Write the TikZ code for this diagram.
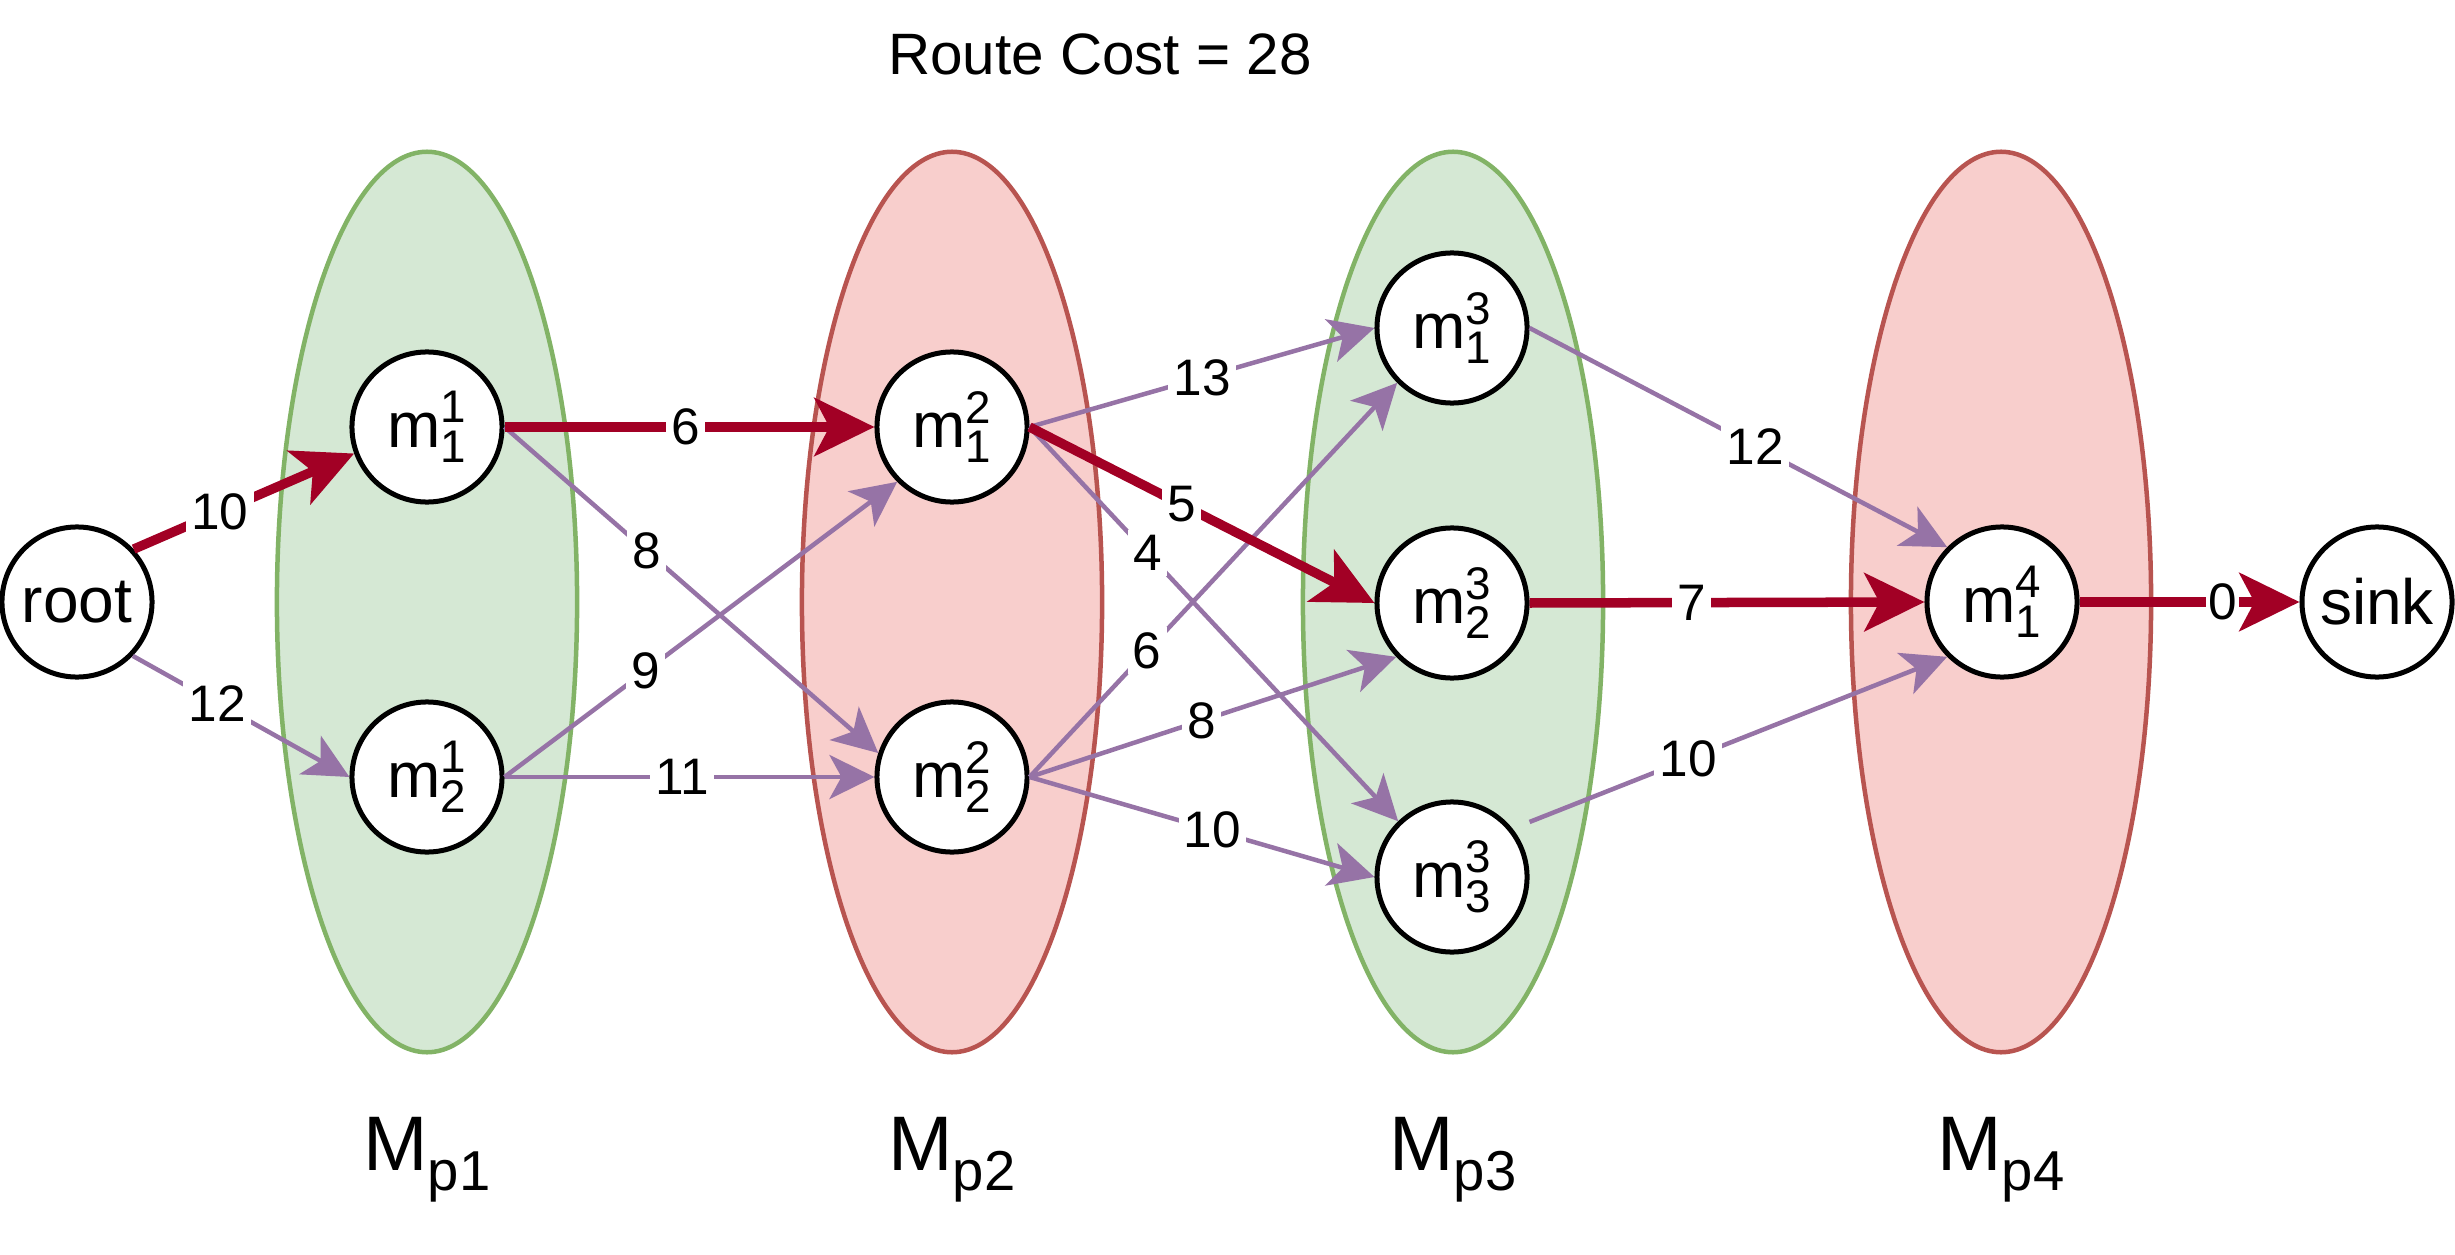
\documentclass[tikz,border=0pt]{standalone}
\usepackage{fontspec}
\setmainfont{Liberation Sans}
\usetikzlibrary{arrows.meta,shapes.geometric}
\definecolor{pur}{HTML}{9673A6}
\definecolor{crim}{HTML}{A20025}
\definecolor{gfill}{HTML}{D5E8D4}
\definecolor{gline}{HTML}{82B366}
\definecolor{rfill}{HTML}{F8CECC}
\definecolor{rline}{HTML}{B85450}
\newcommand{\mlab}[2]{m\makebox[0pt][l]{\raisebox{7pt}{\fontsize{13}{13}\selectfont #1}}\raisebox{-4.3pt}{\fontsize{13}{13}\selectfont #2}}
\newcommand{\Mlab}[1]{M\raisebox{-5.7pt}{\fontsize{16}{16}\selectfont p#1}}
\tikzset{
 mnode/.style={circle, draw=black, line width=0.05cm, fill=white, minimum size=1.5cm, inner sep=0pt, font=\fontsize{18.2}{20}\selectfont},
 grp/.style={ellipse, line width=0.045cm, minimum width=3cm, minimum height=9cm, inner sep=0pt, outer sep=0pt},
 grpG/.style={grp, draw=gline, fill=gfill},
 grpR/.style={grp, draw=rline, fill=rfill},
 pe/.style={draw=pur, line width=0.045cm, -{Stealth[length=0.45cm,width=0.44cm,inset=0.12cm]}},
 re/.style={draw=crim, line width=0.095cm, -{Stealth[length=0.6cm,width=0.58cm,inset=0.15cm]}},
 wl/.style={fill=white, inner sep=1.5pt, font=\fontsize{14.6}{16}\selectfont, text=black},
 glab/.style={anchor=base, inner sep=0pt, font=\fontsize{22}{24}\selectfont},
}
\begin{document}
\begin{tikzpicture}[x=0.01cm,y=-0.01cm]
\useasboundingbox (0,0) rectangle (2455,1255);
% group ellipses
\node[grpG] (E1) at (427,602) {};
\node[grpR] (E2) at (952,602) {};
\node[grpG] (E3) at (1453,602) {};
\node[grpR] (E4) at (2001,602) {};
% title and group labels
\node[anchor=base, inner sep=0pt, font=\fontsize{16.6}{18}\selectfont] (title) at (1100,75) {Route Cost = 28};
\node[glab] (L1) at (427,1170) {\Mlab{1}};
\node[glab] (L2) at (952,1170) {\Mlab{2}};
\node[glab] (L3) at (1453,1170) {\Mlab{3}};
\node[glab] (L4) at (2001,1170) {\Mlab{4}};
% nodes
\node[mnode] (root) at (77,602) {root};
\node[mnode] (m11) at (427,427) {\mlab{1}{1}};
\node[mnode] (m12) at (427,777) {\mlab{1}{2}};
\node[mnode] (m21) at (952,427) {\mlab{2}{1}};
\node[mnode] (m22) at (952,777) {\mlab{2}{2}};
\node[mnode] (m31) at (1452,328) {\mlab{3}{1}};
\node[mnode] (m32) at (1452,603) {\mlab{3}{2}};
\node[mnode] (m33) at (1452,877) {\mlab{3}{3}};
\node[mnode] (m41) at (2002,602) {\mlab{4}{1}};
\node[mnode] (sink) at (2377,602) {sink};
% edges
\draw[pe] (root.-44) -- node[wl,pos=0.39]{12} (m12.west);
\draw[pe] (m11.east) -- node[wl,pos=0.38]{8} (m22.162);
\draw[pe] (m12.east) -- node[wl,pos=0.36]{9} (m21.225);
\draw[pe] (m12.east) -- node[wl,pos=0.48]{11} (m22.west);
\draw[pe] (m21.east) -- node[wl,pos=0.5]{13} (m31.west);
\draw[pe] (m21.east) -- node[wl,pos=0.32]{4} (m33.134);
\draw[pe] (m22.east) -- node[wl,pos=0.32]{6} (m31.225);
\draw[pe] (m22.east) -- node[wl,pos=0.47]{8} (m32.224);
\draw[pe] (m22.east) -- node[wl,pos=0.53]{10} (m33.west);
\draw[pe] (m31.east) -- node[wl,pos=0.54]{12} (m41.135);
\draw[pe] ([yshift=0.55cm]m33.east) -- node[wl,pos=0.38]{10} (m41.225);
\draw[re] (root.43) -- node[wl,pos=0.39]{10} (m11.200);
\draw[re] (m11.east) -- node[wl,pos=0.49]{6} (m21.west);
\draw[re] (m21.east) -- node[wl,pos=0.44]{5} (m32.west);
\draw[re] (m32.east) -- node[wl,pos=0.41]{7} (m41.west);
\draw[re] (m41.east) -- node[wl,pos=0.65,inner sep=0.5pt]{0} (sink.west);
\end{tikzpicture}
\end{document}
